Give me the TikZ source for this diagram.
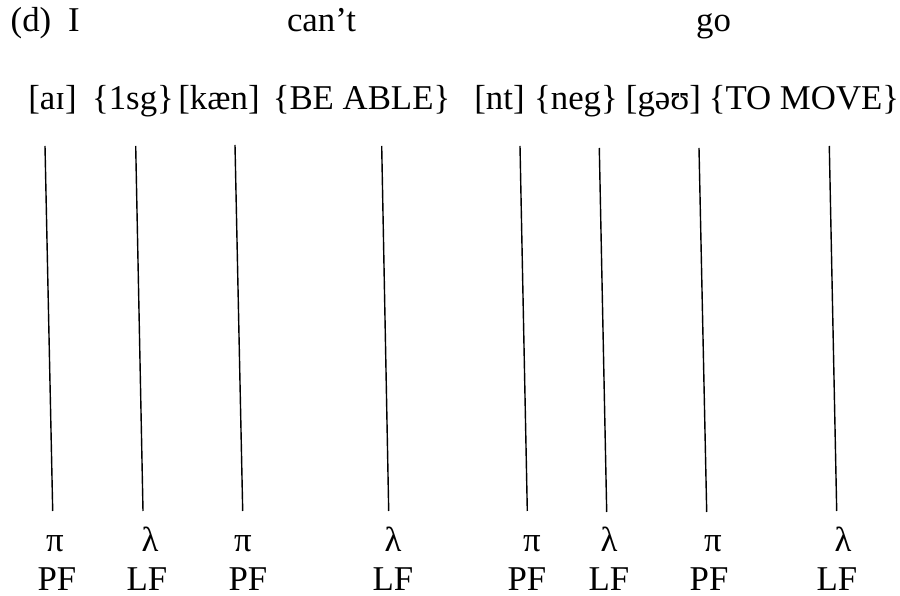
\documentclass[tikz,border=0pt]{standalone}
\usepackage{fontspec}
\setmainfont{Liberation Serif}
\begin{document}
\begin{tikzpicture}[x=0.2mm,y=-0.2mm,
  word/.style={anchor=base,inner sep=0pt,font=\fontsize{19.8}{23}\selectfont},
  link/.style={line width=0.8pt}]
  \useasboundingbox (0,0) rectangle (900,596);

  % Sentence
  \node[word] (ex)   at (31,32)    {(d)};
  \node[word] (i)    at (74,32)    {I};
  \node[word] (cant) at (321.5,32) {can't};
  \node[word] (go)   at (713.5,32) {go};

  % Sound and meaning of each piece
  \foreach \n/\x/\t in {1/52.5/[aɪ], 2/133/\{1sg\}, 3/219/[kæn], 4/361.5/\{BE ABLE\},
                        5/499.5/[nt], 6/576/\{neg\}, 7/663.5/[gəʊ], 8/804/\{TO MOVE\}} {
    \node[word] (m\n) at (\x,110) {\t};
  }

  % Lines down to the interfaces
  \foreach \n/\tx/\ty/\bx/\by in {1/45/146/52.7/511, 2/135.7/146/143/511,
                                  3/235/145/242.7/511, 4/381.7/146/388.7/511,
                                  5/520/146/527.3/511, 6/599.3/148/606.7/512,
                                  7/699/148/706.7/512, 8/829.3/146/836.7/511} {
    \coordinate (t\n) at (\tx,\ty);
    \coordinate (b\n) at (\bx,\by);
    \draw[link] (t\n) -- (b\n);
  }

  % Interfaces
  \foreach \n/\g/\gx/\f/\fx in {1/π/55/PF/57, 2/λ/150/LF/147, 3/π/243/PF/248, 4/λ/393/LF/393,
                                5/π/532/PF/527, 6/λ/609/LF/609, 7/π/713/PF/709, 8/λ/843/LF/837} {
    \node[word] (g\n) at (\gx,552) {\g};
    \node[word] (f\n) at (\fx,591) {\f};
  }
\end{tikzpicture}
\end{document}
